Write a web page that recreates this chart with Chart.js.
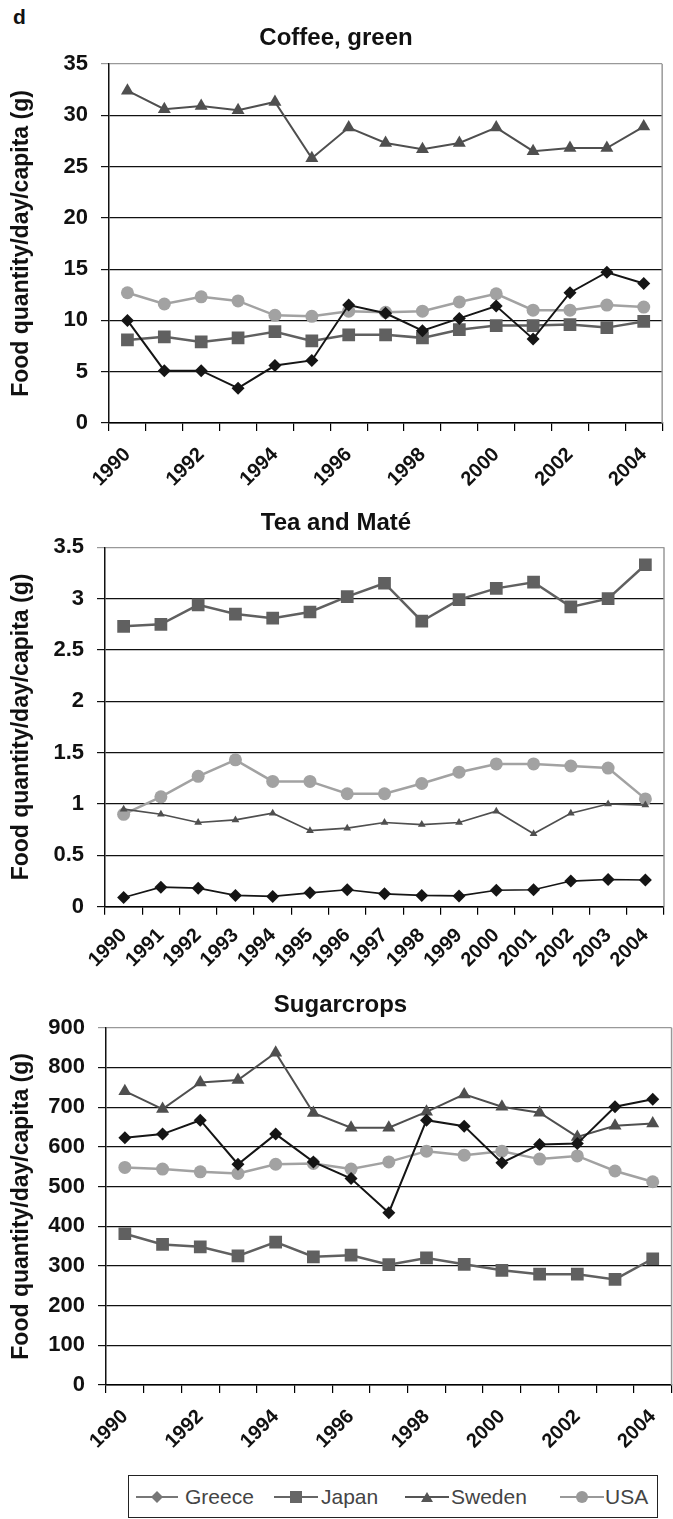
<!DOCTYPE html>
<html>
<head>
<meta charset="utf-8">
<script src="https://cdn.jsdelivr.net/npm/chart.js@4.4.1/dist/chart.umd.min.js"></script>
<style>
  html, body { margin:0; padding:0; background:#fff; }
  #wrap { width:673px; height:1519px; position:relative; overflow:hidden; font-family:"Liberation Sans", Arial, Helvetica, sans-serif; }
  canvas { position:absolute; left:0; }
  #panelLetter { position:absolute; left:13px; top:5px; font-weight:bold; font-size:21px; color:#111; }
  #legend { position:absolute; left:128px; top:1475px; width:530px; height:43px; border:1px solid #222; box-sizing:border-box; background:#fff; }
  .li { position:absolute; top:0; height:41px; display:flex; align-items:center; font-size:21px; color:#444; }
</style>
</head>
<body>
<div id="wrap">
<div id="panelLetter">d</div>
<canvas id="c1" width="673" height="490" style="top:0px"></canvas>
<canvas id="c2" width="673" height="500" style="top:490px"></canvas>
<canvas id="c3" width="682" height="470" style="top:990px"></canvas>
<div id="legend">
  <div class="li" style="left:7px"><svg width="42" height="16" style="margin-right:7px"><line x1="0" y1="8" x2="42" y2="8" stroke="#777" stroke-width="2"/><polygon points="21,2 27,8 21,14 15,8" fill="#777"/></svg>Greece</div>
  <div class="li" style="left:145px"><svg width="44" height="16" style="margin-right:3px"><line x1="0" y1="8" x2="44" y2="8" stroke="#666" stroke-width="2"/><rect x="16" y="2" width="12" height="12" fill="#666"/></svg>Japan</div>
  <div class="li" style="left:276px"><svg width="44" height="16" style="margin-right:2px"><line x1="0" y1="8" x2="44" y2="8" stroke="#555" stroke-width="2"/><polygon points="22,3 28,13 16,13" fill="#555"/></svg>Sweden</div>
  <div class="li" style="left:431px"><svg width="44" height="16" style="margin-right:1px"><line x1="0" y1="8" x2="44" y2="8" stroke="#999" stroke-width="2"/><circle cx="22" cy="8" r="6" fill="#999"/></svg>USA</div>
</div>
</div>
<script>
const years = ['1990','1991','1992','1993','1994','1995','1996','1997','1998','1999','2000','2001','2002','2003','2004'];
const seriesNames = ['Greece','Japan','Sweden','USA'];

// Coffee, green
const coffeeGreece = [10.0, 5.1, 5.1, 3.4, 5.6, 6.1, 11.5, 10.7, 9.0, 10.2, 11.4, 8.2, 12.7, 14.7, 13.6];
const coffeeJapan  = [8.1, 8.4, 7.9, 8.3, 8.9, 8.0, 8.6, 8.6, 8.3, 9.1, 9.5, 9.5, 9.6, 9.3, 9.9];
const coffeeSweden = [32.4, 30.6, 30.9, 30.5, 31.3, 25.8, 28.8, 27.3, 26.7, 27.3, 28.8, 26.5, 26.8, 26.8, 28.9];
const coffeeUSA    = [12.7, 11.6, 12.3, 11.9, 10.5, 10.4, 10.9, 10.8, 10.9, 11.8, 12.6, 11.0, 11.0, 11.5, 11.3];

// Tea and Maté
const teaGreece = [0.09, 0.19, 0.18, 0.11, 0.10, 0.135, 0.165, 0.125, 0.11, 0.105, 0.16, 0.165, 0.25, 0.265, 0.26];
const teaJapan  = [2.73, 2.75, 2.94, 2.85, 2.81, 2.87, 3.02, 3.15, 2.78, 2.99, 3.10, 3.16, 2.92, 3.00, 3.33];
const teaSweden = [0.95, 0.90, 0.82, 0.845, 0.91, 0.74, 0.765, 0.82, 0.80, 0.82, 0.93, 0.71, 0.91, 1.00, 0.99];
const teaUSA    = [0.90, 1.07, 1.27, 1.43, 1.22, 1.22, 1.10, 1.10, 1.20, 1.31, 1.39, 1.39, 1.37, 1.35, 1.05];

// Sugarcrops
const sugarGreece = [623, 632, 667, 556, 632, 562, 520, 434, 667, 652, 560, 606, 608, 701, 720];
const sugarJapan  = [381, 354, 348, 325, 360, 323, 327, 303, 320, 304, 289, 279, 279, 266, 318];
const sugarSweden = [740, 695, 762, 768, 837, 685, 648, 648, 688, 732, 701, 686, 625, 653, 659];
const sugarUSA    = [548, 544, 537, 533, 556, 558, 544, 562, 589, 579, 589, 569, 577, 539, 512];

const yTitle = 'Food quantity/day/capita (g)';
const FONT = '"Liberation Sans", Arial, Helvetica, sans-serif';

const styles = {
  Greece: { color:'#151515', point:'rectRot', r:6.5, lw:2 },
  Japan:  { color:'#606060', point:'rect', r:9, lw:2.5 },
  Sweden: { color:'#4f4f4f', point:'triangle', r:7.5, lw:2 },
  USA:    { color:'#a2a2a2', point:'circle', r:6.5, lw:2.5 }
};

const frame = {
  id:'frame',
  afterDraw(chart) {
    const {ctx, chartArea:a} = chart;
    ctx.save();
    ctx.strokeStyle = '#999';
    ctx.lineWidth = 1.5;
    ctx.beginPath();
    ctx.moveTo(a.right, a.top); ctx.lineTo(a.right, a.bottom);
    ctx.stroke();
    ctx.restore();
  }
};

function makeChart(id, cfg) {
  const datasets = seriesNames.map((n, i) => {
    const s = styles[n];
    const small = cfg.small && (n === 'Sweden' || n === 'Greece');
    return {
      label: n,
      data: cfg.data[i],
      borderColor: s.color,
      backgroundColor: s.color,
      borderWidth: small ? 1.7 : s.lw,
      pointStyle: s.point,
      pointRadius: (n === 'Sweden' && cfg.small) ? 4.5 : s.r,
      pointBorderWidth: 0,
      pointBackgroundColor: s.color,
      tension: 0,
      order: i
    };
  });
  return new Chart(document.getElementById(id), {
    type:'line',
    data:{ labels: years, datasets },
    plugins:[frame],
    options:{
      responsive:false, animation:false, devicePixelRatio:1,
      layout:{ padding:{ top:0, left:0, right:1, bottom:0 } },
      plugins:{
        legend:{ display:false }, tooltip:{ enabled:false },
        title:{ display:true, text:cfg.title, color:'#111',
          font:{ family:FONT, size:24, weight:'bold' },
          padding:{ top:cfg.tTop, bottom:cfg.tBottom } }
      },
      scales:{
        x:{
          offset:true,
          grid:{ offset:true, drawOnChartArea:false, drawTicks:true, tickLength:8, color:'#000', lineWidth:1.2 },
          border:{ display:true, color:'#000', width:1.5 },
          ticks:{ autoSkip:false, minRotation:45, maxRotation:45, padding:cfg.xPad, color:'#111',
            font:{ family:FONT, size:20, weight:'bold' },
            callback: function(v, i) { return (cfg.every === 1 || i % 2 === 0) ? this.getLabelForValue(v) : ''; } },
          afterFit: s => { s.height = cfg.xH; }
        },
        y:{
          min:cfg.min, max:cfg.max,
          ticks:{ stepSize:cfg.step, padding:13, color:'#111', font:{ family:FONT, size:22, weight:'bold' },
            callback: v => String(Math.round(v * 100) / 100) },
          grid:{ drawTicks:true, tickLength:8, lineWidth:1.2,
            color: c => (c.tick && c.tick.value === cfg.max) ? '#999' : '#111' },
          border:{ display:true, color:'#111', width:1.5 },
          title:{ display:true, text:yTitle, color:'#111', font:{ family:FONT, size:23, weight:'bold' }, padding:{ top:8, bottom:0 } },
          afterFit: s => { s.width = cfg.yW; }
        }
      }
    }
  });
}

makeChart('c1', { title:'Coffee, green', data:[coffeeGreece, coffeeJapan, coffeeSweden, coffeeUSA],
  min:0, max:35, step:5, every:2, yW:109, xH:67, tTop:23.6, tBottom:11.6, xPad:12 });
makeChart('c2', { title:'Tea and Maté', data:[teaGreece, teaJapan, teaSweden, teaUSA],
  min:0, max:3.5, step:0.5, every:1, yW:105, xH:83.3, tTop:18.6, tBottom:9.9, small:true, xPad:9 });
makeChart('c3', { title:'Sugarcrops', data:[sugarGreece, sugarJapan, sugarSweden, sugarUSA],
  min:0, max:900, step:100, every:2, yW:106, xH:75, tTop:0.6, tBottom:8.3, xPad:12 });
</script>
</body>
</html>
